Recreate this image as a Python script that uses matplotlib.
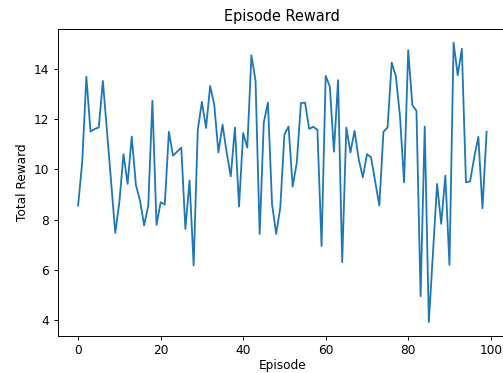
import numpy as np
import matplotlib
matplotlib.use("Agg")
import matplotlib.pyplot as plt

# rewards, one per episode (0..99)
episodes = np.arange(100)
rewards = [
    8.56, 10.3, 13.68, 11.5, 11.6, 11.66, 13.51, 11.5, 9.5, 7.47,
    8.7, 10.6, 9.42, 11.3, 9.38, 8.76, 7.77, 8.56, 12.72, 7.79,
    8.69, 8.6, 11.49, 10.54, 10.7, 10.86, 7.63, 9.55, 6.18, 11.57,
    12.68, 11.64, 13.31, 12.55, 10.67, 11.77, 10.67, 9.72, 11.66, 8.52,
    11.44, 10.86, 14.53, 13.51, 7.43, 11.86, 12.65, 8.62, 7.43, 8.49,
    11.38, 11.7, 9.31, 10.27, 12.63, 12.65, 11.6, 11.69, 11.56, 6.95,
    13.71, 13.29, 10.7, 13.54, 6.31, 11.66, 10.67, 11.53, 10.41, 9.68,
    10.6, 10.47, 9.51, 8.56, 11.49, 11.66, 14.24, 13.7, 12.12, 9.48,
    14.73, 12.55, 12.32, 4.96, 11.7, 3.93, 6.67, 9.42, 7.83, 9.75,
    6.2, 15.03, 13.74, 14.79, 9.48, 9.52, 10.47, 11.29, 8.45, 11.49,
]

dpi = 87
fig = plt.figure(figsize=(503 / dpi, 373 / dpi), dpi=dpi)
# the reference is cut off on the right, so the axes run past the edge
ax = fig.add_axes([0.1147, 0.0992, 0.8933, 0.8238])
ax.plot(episodes, rewards)
ax.set_title("Episode Reward")
ax.set_xlabel("Episode", labelpad=1.5)
ax.set_ylabel("Total Reward")

fig.savefig("out.png", dpi=dpi)
